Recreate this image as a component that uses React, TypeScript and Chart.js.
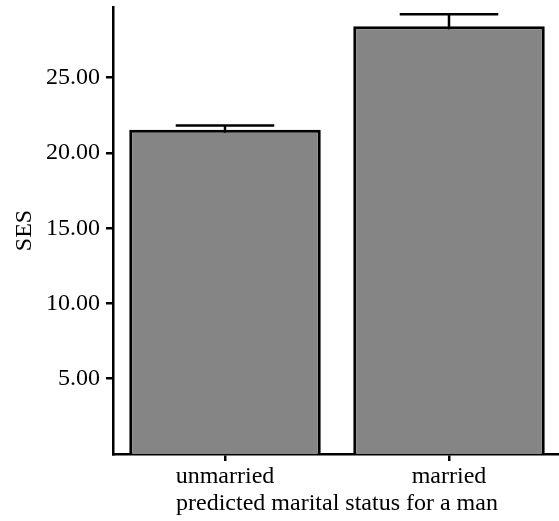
import React, { useEffect, useRef } from "react";
import { Chart, registerables } from "chart.js";

Chart.register(...registerables);

const categories = ["unmarried", "married"];
const sesMeans = [21.55, 28.42];
const sesErrors = [0.27, 0.8];
const yTicks = [5, 10, 15, 20, 25];
const yMax = 29.7;

const FONT = "'Liberation Serif', 'Times New Roman', serif";

const errorBarPlugin = {
  id: "errorBars",
  beforeDatasetsDraw(chart: any) {
    const ctx = chart.ctx;
    const xs = chart.scales.x;
    const ys = chart.scales.y;
    const meta = chart.getDatasetMeta(0);
    const catWidth = (xs.right - xs.left) / categories.length;
    ctx.save();
    ctx.strokeStyle = "#000";
    ctx.lineWidth = 2.5;
    meta.data.forEach((bar: any, i: number) => {
      const x = bar.x;
      const yTop = ys.getPixelForValue(sesMeans[i] + sesErrors[i]);
      const yBot = ys.getPixelForValue(sesMeans[i] - sesErrors[i]);
      const half = catWidth * 0.22;
      ctx.beginPath();
      ctx.moveTo(x, yBot);
      ctx.lineTo(x, yTop);
      ctx.moveTo(x - half, yTop);
      ctx.lineTo(x + half, yTop);
      ctx.stroke();
    });
    ctx.restore();
  },
};

export default function App() {
  const ref = useRef<HTMLCanvasElement | null>(null);
  useEffect(() => {
    if (!ref.current) return;
    const chart = new Chart(ref.current, {
      type: "bar",
      data: {
        labels: categories,
        datasets: [
          {
            data: sesMeans,
            backgroundColor: "#858585",
            borderColor: "#000",
            borderWidth: 3,
            categoryPercentage: 1,
            barPercentage: 0.855,
          },
        ],
      },
      options: {
        animation: false,
        responsive: false,
        devicePixelRatio: 1,
        layout: { padding: { top: 7, right: 0, bottom: 0, left: 0 } },
        plugins: { legend: { display: false }, tooltip: { enabled: false } },
        scales: {
          x: {
            afterFit: (s: any) => {
              s.height = 67;
              s.paddingLeft = 0;
              s.paddingRight = 0;
            },
            grid: {
              display: true,
              drawOnChartArea: false,
              drawTicks: true,
              tickLength: 7,
              color: "#000",
              lineWidth: 2.5,
              offset: false,
            },
            border: { display: true, color: "#000", width: 2.5 },
            ticks: {
              color: "#000",
              font: { family: FONT, size: 24 },
              padding: 1,
            },
            title: {
              display: true,
              text: "predicted marital status for a man",
              color: "#000",
              font: { family: FONT, size: 24 },
              padding: { top: 0, bottom: 3 },
            },
          },
          y: {
            min: 0,
            max: yMax,
            afterFit: (s: any) => {
              s.width = 113;
              s.paddingTop = 0;
              s.paddingBottom = 0;
            },
            afterBuildTicks: (s: any) => {
              s.ticks = yTicks.map((v) => ({ value: v }));
            },
            grid: {
              display: true,
              drawOnChartArea: false,
              drawTicks: true,
              tickLength: 7,
              color: "#000",
              lineWidth: 2.5,
            },
            border: { display: true, color: "#000", width: 2.5 },
            ticks: {
              color: "#000",
              font: { family: FONT, size: 24 },
              padding: 6,
              callback: (v: any) => Number(v).toFixed(2),
            },
            title: {
              display: true,
              text: "SES",
              color: "#000",
              font: { family: FONT, size: 24 },
              padding: { top: 10, bottom: 0 },
            },
          },
        },
      },
      plugins: [errorBarPlugin],
    });
    return () => chart.destroy();
  }, []);
  return (
    <div
      style={{
        position: "fixed",
        left: 0,
        top: 0,
        width: 559,
        height: 521,
        overflow: "hidden",
        background: "#fff",
      }}
    >
      <canvas ref={ref} width={561} height={521} style={{ display: "block" }} />
    </div>
  );
}
